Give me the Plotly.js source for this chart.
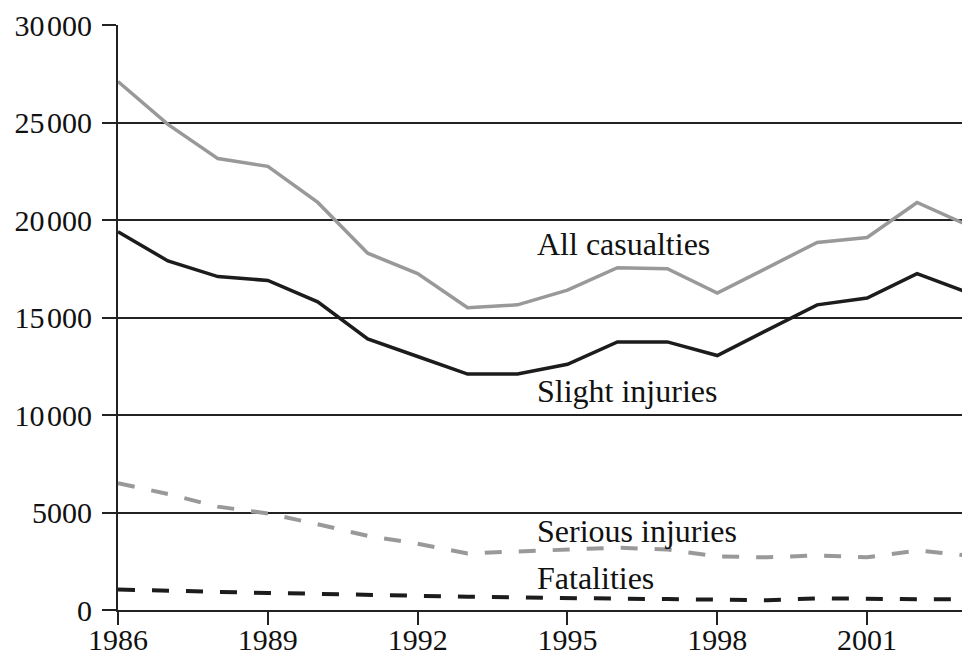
<!DOCTYPE html>
<html>
<head>
<meta charset="utf-8">
<script src="https://cdn.plot.ly/plotly-3.0.1.min.js"></script>
<style>html,body{margin:0;padding:0;background:#fff;}#chart{width:962px;height:663px;}</style>
</head>
<body>
<div id="chart"></div>
<script>
const years = [1986,1987,1988,1989,1990,1991,1992,1993,1994,1995,1996,1997,1998,1999,2000,2001,2002,2003];
const allCasualties = [27100,24900,23150,22750,20900,18300,17250,15500,15650,16400,17550,17500,16250,17550,18850,19100,20900,19750];
const slightInjuries = [19400,17900,17100,16900,15800,13900,13000,12100,12100,12600,13750,13750,13050,14350,15650,16000,17250,16300];
const seriousInjuries = [6500,5950,5300,4950,4400,3800,3400,2900,3000,3100,3200,3100,2750,2700,2800,2700,3050,2800];
const fatalities = [1050,980,900,870,830,770,720,680,650,600,580,560,520,500,600,550,550,550];

const yTickVals = [0,5000,10000,15000,20000,25000,30000];
const yTickText = ['0','5000','10\u200A000','15\u200A000','20\u200A000','25\u200A000','30\u200A000'];
const xTickVals = [1986,1989,1992,1995,1998,2001];
const xTickText = ['1986','1989','1992','1995','1998','2001'];

const labels = [
  {text:'All casualties', x:1994.34, y:18770},
  {text:'Slight injuries', x:1994.34, y:11230},
  {text:'Serious injuries', x:1994.34, y:4050},
  {text:'Fatalities', x:1994.34, y:1640}
];

const font = {family:'"Liberation Serif", "Times New Roman", serif', size:30, color:'#111'};
const annFont = {family:'"Liberation Serif", "Times New Roman", serif', size:32, color:'#111'};

const traces = [
  {x:years, y:allCasualties, mode:'lines', line:{color:'#999999', width:3.5}},
  {x:years, y:slightInjuries, mode:'lines', line:{color:'#1c1c1c', width:3.5}},
  {x:years, y:seriousInjuries, mode:'lines', line:{color:'#999999', width:4, dash:'17px,17px'}},
  {x:years, y:fatalities, mode:'lines', line:{color:'#1c1c1c', width:4, dash:'17px,17px'}}
];

const layout = {
  width:962, height:663,
  margin:{l:118, r:0, t:25, b:53},
  paper_bgcolor:'#fff', plot_bgcolor:'#fff',
  showlegend:false,
  font:font,
  xaxis:{
    range:[1986, 2002.9], tickmode:'array', tickvals:xTickVals, ticktext:xTickText,
    showgrid:false, zeroline:false, showline:true, linecolor:'#222', linewidth:2,
    ticks:'outside', ticklen:13, tickwidth:2, tickcolor:'#222', tickfont:font,
    ticklabelstandoff:-11
  },
  yaxis:{
    range:[0, 30000], tickmode:'array', tickvals:yTickVals, ticktext:yTickText,
    showgrid:true, gridcolor:'#222', gridwidth:2, zeroline:false,
    showline:true, linecolor:'#222', linewidth:2,
    ticks:'outside', ticklen:14, tickwidth:2, tickcolor:'#222', tickfont:font,
    ticklabelstandoff:4
  },
  annotations: labels.map(l => ({
    text:l.text, x:l.x, y:l.y, xref:'x', yref:'y', xanchor:'left', yanchor:'middle',
    showarrow:false, font:annFont
  }))
};

Plotly.newPlot('chart', traces, layout, {staticPlot:true, displayModeBar:false});
</script>
</body>
</html>
